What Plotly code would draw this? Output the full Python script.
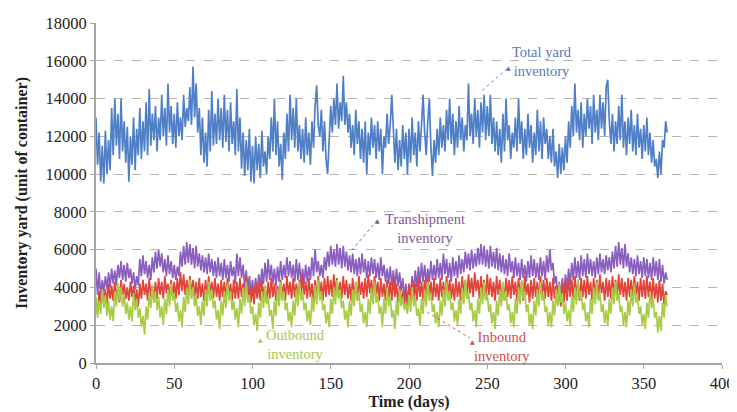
import plotly.graph_objects as go

# ---- data (one sample per day) ----
total_yard = [
13000,10500,12200,9600,11500,9500,12300,10000,11800,10200,
13500,11000,14000,11500,13200,10800,14000,11200,12800,10600,
12500,9600,12000,10500,13000,10200,12400,11000,13500,10800,
12800,11200,13800,11000,14500,11500,13200,11800,13600,11200,
13000,11800,14200,12000,13500,11500,14800,12200,13600,11600,
13200,11400,13800,12000,13000,11800,14200,12500,13500,12800,
14600,12600,15700,13000,14800,12200,13500,11000,13000,10600,
12200,10400,13400,11200,14400,11500,13200,11600,14000,11800,
13500,11400,14200,11700,13400,11200,13800,11600,12800,11000,
14500,11200,13000,10300,12200,9900,11800,10200,12400,9600,
11500,9500,12000,10200,11600,9800,12300,10400,11200,10000,
12000,10800,13000,11200,14000,11000,12800,10400,11600,9700,
12200,10800,13200,11200,14200,11800,13500,11400,14000,11200,
12600,10800,12400,10600,13000,11000,12200,10500,12800,11400,
13600,14700,12600,12000,13400,11200,12800,10800,10000,12200,
13600,12200,14000,12600,14800,12400,13800,12800,15200,12600,
13800,12200,13200,11400,12600,11000,13400,11600,12800,10800,
12400,10600,12800,10000,12200,11000,13000,11400,12600,10800,
12800,11200,12400,10000,12000,11400,13200,11600,12600,14200,
12000,10600,12400,10200,11800,10400,12600,10800,12200,10000,
12400,10600,13000,11000,12200,10400,12800,11200,12600,14200,
12200,11000,12800,14000,11400,9900,11800,10600,12400,11000,
13000,11400,12600,11200,13400,11800,14000,11600,13200,11000,
12800,11400,13600,11800,13000,11200,12600,11800,14800,12000,
13200,11600,14000,12000,13400,11400,13800,12200,14200,11800,
13600,12000,14200,11600,13000,11200,12800,11000,12400,10600,
13200,11200,14000,11800,12600,10800,12200,11400,13000,11200,
14000,11600,12800,10800,12400,11000,13200,11400,12600,10600,
12200,11000,13400,11200,12800,10800,13000,11600,12400,10800,
12000,10600,12400,10400,11200,9800,11600,10000,11400,10200,
12000,10600,12800,11400,13600,12000,14800,12200,13400,11800,
13800,11400,13200,12000,14000,12400,13600,11600,14200,12200,
13400,11800,14200,12400,13800,12000,14600,15000,12800,11600,
13200,11200,12800,11600,13600,11800,14200,11400,12800,11000,
13000,11600,13400,11200,12600,11000,13200,11400,12400,10800,
12600,11200,13000,11000,12200,10600,11800,10400,10800,9800,
11200,10000,11800,11400,12800,12200,
]

transhipment = [
5000,3600,4800,3500,4400,3800,4600,3900,4800,4000,
5000,4200,4900,4100,5200,4500,5400,4400,5200,4300,
5300,4500,5000,4200,4800,3900,4600,4100,5500,4600,
5700,4700,5400,4500,5200,4400,5600,4800,5900,5000,
6000,5100,5800,4800,5500,4600,5700,4700,5400,4500,
5200,4400,5100,4600,5900,5100,6200,5200,6400,5300,
6300,5200,6100,5000,6200,5100,5800,4900,5700,4800,
5600,4700,5800,4800,5500,4600,5400,4500,5600,4600,
5300,4400,5500,4500,5200,4300,5400,4600,5100,4200,
5800,4600,5600,4500,5200,4000,4900,3900,4600,3700,
4400,3500,4500,3700,4700,4000,5000,4200,5300,4300,
5500,4400,5200,4200,5000,4100,5100,4300,5400,4400,
5200,4500,5600,4600,5400,4500,5200,4300,5500,4400,
5300,4200,5000,4200,5200,4300,5100,4400,5600,4600,
6000,4800,5400,4600,5200,4500,5600,4900,5900,5100,
6200,5200,6000,5100,6300,5200,6100,5000,6200,5100,
5900,4900,5700,4800,5800,4700,5500,4600,5600,4700,
5800,4800,5500,4500,5400,4600,5600,4700,5500,4500,
5300,4400,5600,4600,5200,4300,5000,4200,5100,4100,
4900,4000,5000,4100,4800,3800,4500,3300,4200,3000,
4100,3500,4600,3800,4900,4000,5100,4200,5300,4300,
5200,4200,5000,4300,5400,4400,5200,4400,5500,4500,
5300,4400,5800,4700,5500,4500,5300,4300,5600,4600,
5400,4500,5700,4700,5500,4800,5900,5000,5800,4900,
6000,5000,5800,5100,6100,5200,6300,5200,6200,5100,
6000,5000,6200,5100,5900,5000,6100,4900,5800,4800,
5700,4700,5500,4600,5800,4800,5400,4500,5600,4600,
5300,4400,5500,4500,5200,4300,5400,4500,5700,4600,
5500,4500,5300,4400,5600,4600,5400,4400,5700,4800,
6000,4900,5300,4200,4600,3600,4300,3500,4500,3700,
4700,3900,5000,4100,5300,4400,5600,4500,5400,4400,
5700,4600,5500,4500,5800,4700,5500,4600,5400,4500,
5600,4700,5800,4800,5500,4700,5700,4900,5600,4800,
5900,5000,6200,5100,6400,5200,6100,5000,6300,5100,
5800,4800,5600,4700,5500,4600,5700,4700,5400,4500,
5600,4600,5500,4500,5300,4400,5600,4600,5400,4400,
5500,4300,5200,4200,4800,4400,
]

inbound = [
3200,2600,3800,3000,4000,3300,3900,3100,4200,3400,
4100,3300,4300,3500,4000,3200,4400,3600,4200,3400,
4000,3300,4300,3500,4100,3200,3900,3000,4200,3400,
4400,3600,4200,3300,4500,3500,4100,3200,4300,3400,
4500,3600,4300,3400,4600,3700,4200,3300,4400,3500,
4300,3400,4500,3600,4800,3800,4700,3600,4400,3500,
4600,3700,4400,3500,4300,3400,4500,3500,4200,3300,
4400,3500,4600,3600,4300,3400,4500,3500,4200,3300,
4400,3500,4300,3400,4500,3600,4200,3300,4400,3400,
4300,3400,4500,3500,4200,3300,4600,3400,4100,3200,
4000,3100,4300,3400,4200,3300,4400,3500,4100,3200,
4300,3400,4500,3500,4200,3300,4100,3200,4400,3500,
4200,3300,4600,3600,4300,3400,4500,3500,4200,3300,
4400,3500,4700,3600,4300,3400,4500,3500,4200,3200,
4400,3400,4600,3600,4300,3300,4500,3500,4600,3600,
4400,3500,4700,3700,4500,3500,4300,3400,4600,3600,
4400,3400,4200,3300,4500,3500,4300,3300,4600,3600,
4300,3400,4500,3500,4700,3700,4400,3400,4600,3600,
4300,3300,4500,3500,4200,3300,4400,3400,4300,3300,
4500,3500,4200,3200,4100,3100,3800,3000,3900,3100,
4200,3300,4400,3400,4200,3300,4500,3500,4300,3300,
4400,3400,4600,3600,4300,3300,4500,3500,4200,3300,
4500,3500,4300,3300,4600,3600,4400,3400,4200,3300,
4500,3500,4300,3300,4600,3600,4400,3400,4700,3700,
4500,3500,4800,3800,4400,3400,4600,3600,4400,3400,
4700,3600,4500,3500,4300,3300,4600,3600,4400,3400,
4200,3300,4500,3500,4400,3400,4600,3600,4300,3300,
4500,3500,4300,3300,4600,3600,4200,3200,4400,3400,
4500,3500,4300,3300,4600,3600,4400,3400,4500,3500,
4300,3300,4500,3400,4100,3100,3900,3000,4200,3200,
4300,3300,4500,3500,4400,3400,4600,3600,4300,3300,
4500,3500,4400,3400,4600,3600,4300,3300,4500,3500,
4400,3400,4700,3700,4300,3300,4500,3500,4400,3400,
4600,3600,4400,3400,4700,3600,4500,3500,4300,3300,
4500,3500,4400,3400,4600,3600,4300,3300,4500,3500,
4400,3400,4600,3500,4300,3300,4500,3400,4200,3200,
4400,3300,4200,3100,3800,3600,
]

outbound = [
3500,2400,3300,2600,3900,2900,3600,2500,3300,2300,
3000,2200,3800,3000,4200,3300,4000,3000,3600,2600,
3200,2300,3000,2200,3700,2800,3400,2400,2900,1900,
2500,1500,3000,2300,3700,2900,4100,3200,3800,2800,
3500,2400,3000,2000,3400,2600,3900,3000,4200,3300,
3700,2700,3200,2200,2800,1900,3500,2700,4000,3100,
4400,3400,4000,3000,3500,2500,3000,2000,3300,2500,
3900,3000,4300,3300,3900,2900,3300,2300,2800,1800,
3300,2500,3800,2900,4200,3300,3800,2800,3300,2300,
2900,1900,3400,2600,4000,3000,4300,3200,3600,2600,
3000,2000,2600,1700,3200,2400,3800,2900,4100,3100,
3500,2500,2800,1800,3300,2500,3900,3000,4300,3300,
3800,2800,3200,2200,2700,1900,3300,2500,3900,3000,
4300,3300,3800,2800,3200,2200,2800,2000,3500,2700,
4100,3100,4400,3300,3800,2800,3100,2100,2700,1900,
3400,2600,4000,3100,4400,3400,3900,2900,3300,2300,
2800,1900,3300,2500,3900,3000,4300,3300,3700,2700,
3100,2100,2700,1900,3400,2600,4000,3100,4300,3200,
3600,2600,3000,1900,3400,2600,4000,3000,3500,2400,
2800,1800,3300,2500,3900,3000,3500,2800,3200,2600,
3600,2700,4000,3000,3500,2500,2900,2000,3400,2600,
3900,3000,4300,3300,3700,2700,3100,2100,2700,1900,
3300,2500,3900,3000,4300,3300,3800,2800,3200,2200,
2800,2000,3400,2600,4000,3100,4400,3400,3800,2800,
3200,2200,2800,1900,3400,2600,4000,3100,4300,3300,
3700,2700,3100,2100,2700,1800,3300,2500,3900,3000,
4300,3300,3800,2800,3100,2100,2700,1900,3400,2600,
4000,3100,4400,3400,3800,2700,3100,2000,2600,1800,
3300,2500,3900,3000,4300,3300,3700,2700,3000,2000,
2700,1900,3300,2500,3900,3000,4200,3200,3700,2600,
3200,2200,2800,2000,3500,2700,4000,3100,4400,3400,
3800,2800,3200,2200,2700,1900,3400,2600,4000,3100,
4300,3300,3700,2700,3100,2100,2800,2000,3400,2600,
4000,3100,4300,3300,3700,2700,3000,2000,2700,1900,
3300,2500,3900,3000,4200,3200,3600,2600,3000,2000,
2600,1800,3200,2400,3800,2900,3400,2400,2700,1600,
2500,1700,3200,2400,3600,3000,
]

x_ticks = [0, 50, 100, 150, 200, 250, 300, 350, 400]
y_ticks = [0, 2000, 4000, 6000, 8000, 10000, 12000, 14000, 16000, 18000]

series = [
    ("Total yard inventory", total_yard, "#4f7fc6"),
    ("Transhipment inventory", transhipment, "#8a5fbf"),
    ("Inbound inventory", inbound, "#e0443a"),
    ("Outbound inventory", outbound, "#a6cd45"),
]

FONT = "Liberation Serif"

fig = go.Figure()
for name, vals, col in series:
    fig.add_trace(go.Scatter(
        x=list(range(len(vals))), y=vals, mode="lines", name=name,
        line=dict(color=col, width=1.7), hoverinfo="skip",
    ))

# dashed leader lines
leaders = [
    (246.8, 14430, 263.4, 15640, "#6a86c0"),
    (163.5, 5970, 179.7, 7560, "#8a6aa8"),
    (211.6, 2700, 239.0, 1320, "#c86060"),
]
for x0, y0, x1, y1, c in leaders:
    fig.add_shape(type="line", x0=x0, y0=y0, x1=x1, y1=y1, xref="x", yref="y",
                  line=dict(color=c, width=1, dash="dot"))

labels = [
    (284.8, 15960, "Total yard<br>inventory", "#5a78b8"),
    (210.0, 7110, "Transhipment<br>inventory", "#7a5a98"),
    (127.2, 980, "Outbound<br>inventory", "#a8c64a"),
    (259.6, 850, "Inbound<br>inventory", "#d04c4c"),
]
for xx, yy, t, c in labels:
    fig.add_annotation(x=xx, y=yy, text=t, showarrow=False, xref="x", yref="y",
                       font=dict(family=FONT, size=14.5, color=c), align="center")

markers = [
    (263.4, 15640, "#5a78b8"),
    (179.7, 7560, "#7a5a98"),
    (104.9, 1270, "#a8c64a"),
    (240.4, 1160, "#d04c4c"),
]
for xx, yy, c in markers:
    fig.add_annotation(x=xx, y=yy, text="▲", showarrow=False, xref="x", yref="y",
                       font=dict(family="DejaVu Sans", size=6, color=c))

fig.update_layout(
    width=729, height=404,
    margin=dict(l=88, r=15, t=15, b=49),
    paper_bgcolor="white", plot_bgcolor="white",
    showlegend=False,
    font=dict(family=FONT, size=16.5, color="#222222"),
)
fig.update_xaxes(
    range=[0, 400], tickvals=x_ticks, ticktext=[str(v) for v in x_ticks],
    automargin=False,
    showgrid=False, zeroline=False, showline=True, linecolor="#a6a6a6", linewidth=2,
    ticks="outside", ticklen=4, tickcolor="#a6a6a6",
    title=dict(text="<b>Time (days)</b>", font=dict(family=FONT, size=16), standoff=4),
)
fig.update_yaxes(
    range=[0, 18000], tickvals=y_ticks, ticktext=[str(v) for v in y_ticks],
    automargin=False,
    showgrid=True, gridcolor="#b4b4b4", griddash="dash", gridwidth=1,
    zeroline=False, showline=True, linecolor="#a6a6a6", linewidth=2,
    ticks="outside", ticklen=4, tickcolor="#a6a6a6",
    title=dict(text="<b>Inventory yard (unit of container)</b>",
               font=dict(family=FONT, size=16), standoff=14),
)

fig.write_html("out.html")
